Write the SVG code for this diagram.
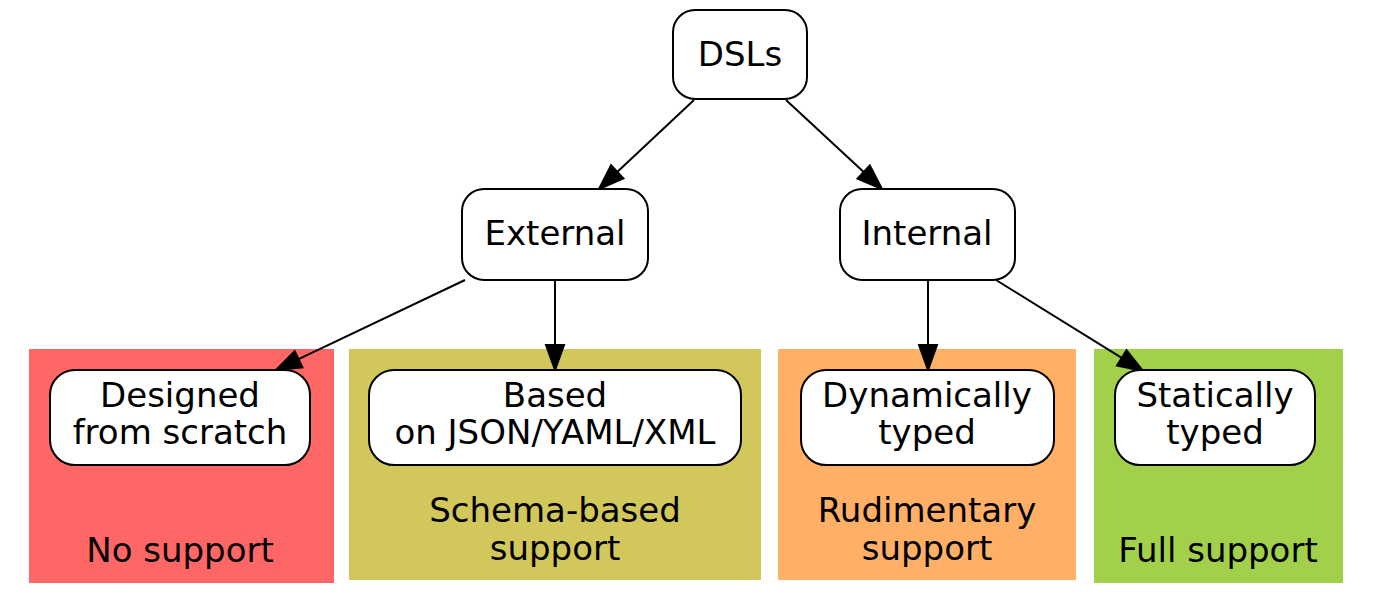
<svg xmlns="http://www.w3.org/2000/svg" width="1373" height="613" viewBox="0 0 1373 613">
<style>
text{font-family:"DejaVu Sans",Verdana,sans-serif;font-size:34px;fill:#000;text-anchor:middle}
.node rect{fill:#fff;stroke:#000;stroke-width:2}
.edge line{stroke:#000;stroke-width:2}
.edge polygon{fill:#000;stroke:#000;stroke-width:2}
</style>
<rect width="1373" height="613" fill="#fff"/>
<g id="cluster_none">
<rect x="29" y="349" width="305" height="234" fill="#ff6666"/>
<text x="180" y="562">No support</text>
</g>
<g id="cluster_schema">
<rect x="349" y="349" width="412" height="231" fill="#d1c75a"/>
<text x="555" y="522">Schema-based</text>
<text x="555" y="560">support</text>
</g>
<g id="cluster_rudimentary">
<rect x="778" y="349" width="298" height="231" fill="#ffb066"/>
<text x="927" y="522">Rudimentary</text>
<text x="927" y="560">support</text>
</g>
<g id="cluster_full">
<rect x="1094" y="349" width="249" height="234" fill="#a3d04a"/>
<text x="1218" y="562">Full support</text>
</g>
<g class="edge" id="edges">
<line x1="694" y1="100" x2="617.2" y2="171.9"/>
<polygon points="599,189 623.4,178.5 611.1,165.3"/>
<line x1="786" y1="100" x2="863.7" y2="172"/>
<polygon points="882,189 857.5,178.6 869.8,165.4"/>
<line x1="465" y1="280" x2="298.6" y2="359.2"/>
<polygon points="276,370 302.4,367.4 294.7,351.1"/>
<line x1="555" y1="281" x2="555" y2="345"/>
<polygon points="555,370 546,345 564,345"/>
<line x1="928" y1="281" x2="928" y2="345"/>
<polygon points="928,370 919,345 937,345"/>
<line x1="996" y1="280" x2="1121.7" y2="357.8"/>
<polygon points="1143,371 1117,365.5 1126.5,350.2"/>
</g>
<g class="node" id="dsls">
<rect x="673" y="10" width="134" height="89" rx="22"/>
<text x="740" y="66">DSLs</text>
</g>
<g class="node" id="external">
<rect x="462" y="189" width="186" height="91" rx="22"/>
<text x="555" y="245">External</text>
</g>
<g class="node" id="internal">
<rect x="840" y="189" width="175" height="91" rx="22"/>
<text x="927" y="245">Internal</text>
</g>
<g class="node" id="designed">
<rect x="50" y="370" width="260" height="95" rx="25"/>
<text x="180" y="407">Designed</text>
<text x="180" y="444">from scratch</text>
</g>
<g class="node" id="based">
<rect x="369" y="370" width="372" height="95" rx="25"/>
<text x="555" y="407">Based</text>
<text x="555" y="444">on JSON/YAML/XML</text>
</g>
<g class="node" id="dynamic">
<rect x="801" y="370" width="253" height="95" rx="25"/>
<text x="927" y="407">Dynamically</text>
<text x="927" y="444">typed</text>
</g>
<g class="node" id="static">
<rect x="1115" y="370" width="200" height="95" rx="25"/>
<text x="1215" y="407">Statically</text>
<text x="1215" y="444">typed</text>
</g>
</svg>
